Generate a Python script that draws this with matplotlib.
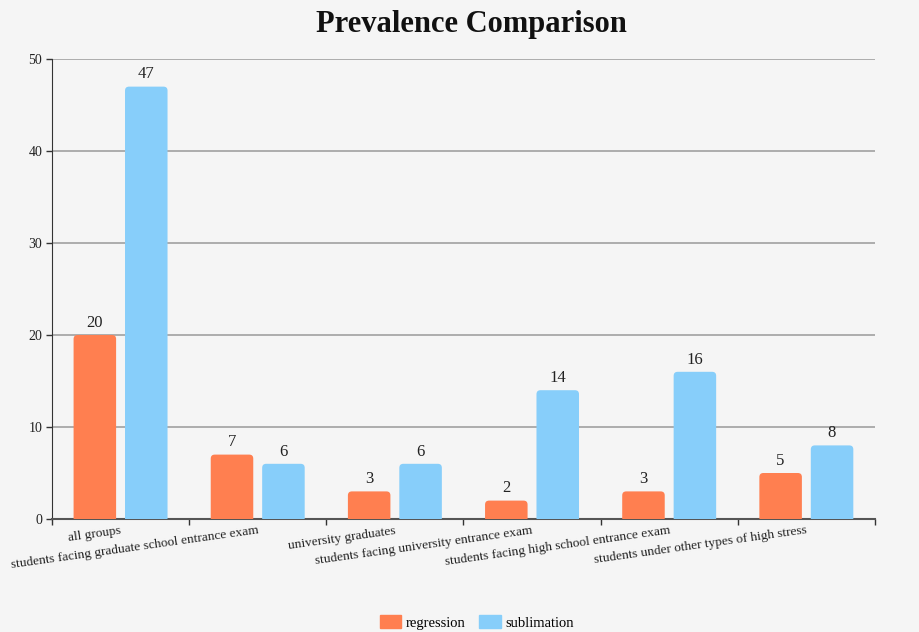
import numpy as np
import matplotlib
matplotlib.use("Agg")
import matplotlib.pyplot as plt
from matplotlib.patches import Patch, FancyBboxPatch

categories = ["all groups",
              "students facing graduate school entrance exam",
              "university graduates",
              "students facing university entrance exam",
              "students facing high school entrance exam",
              "students under other types of high stress"]
regression = [20, 7, 3, 2, 3, 5]
sublimation = [47, 6, 6, 14, 16, 8]
y_ticks = [0, 10, 20, 30, 40, 50]

orange = "#FF7F50"
blue = "#87CEFA"
bg = "#f5f5f5"

plt.rcParams["font.family"] = ["Liberation Serif", "DejaVu Serif"]

fig = plt.figure(figsize=(9.2, 6.32), dpi=100, facecolor=bg)
ax = fig.add_axes([0.0565, 0.1788, 0.8945, 0.7278], facecolor=bg)

x = np.arange(len(categories))
w = 0.31
gap = 0.065
off = (w + gap) / 2

ax.set_xlim(-0.5, len(categories) - 0.5)
ax.set_ylim(0, 50)

b1 = ax.bar(x - off, regression, w, color=orange, zorder=3)
b2 = ax.bar(x + off, sublimation, w, color=blue, zorder=3)

# swap the plain rectangles for ones with rounded top corners
bbox = ax.get_window_extent()
px_x = bbox.width / (ax.get_xlim()[1] - ax.get_xlim()[0])
px_y = bbox.height / (ax.get_ylim()[1] - ax.get_ylim()[0])
radius_px = 4
r = radius_px / px_x
aspect = px_x / px_y
for bars in (b1, b2):
    for b in bars:
        b.set_visible(False)
        h = b.get_height()
        drop = radius_px / px_y
        p = FancyBboxPatch((b.get_x(), -drop), b.get_width(), h + drop,
                           boxstyle=f"round,pad=0,rounding_size={r}",
                           mutation_aspect=aspect, facecolor=b.get_facecolor(),
                           edgecolor="none", zorder=3, clip_on=True)
        ax.add_patch(p)

for bars, vals in ((b1, regression), (b2, sublimation)):
    for b, v in zip(bars, vals):
        ax.annotate(str(v), (b.get_x() + b.get_width() / 2, v),
                    xytext=(0, 3), textcoords="offset points",
                    ha="center", va="bottom", fontsize=12, color="#222")

ax.set_yticks(y_ticks)
ax.tick_params(axis="y", length=4, width=1, color="#333", labelsize=10,
               labelcolor="#222", pad=3)
ax.yaxis.grid(True, color="#a0a0a0", linewidth=1.2, zorder=0)
ax.set_axisbelow(True)

# ticks on category boundaries, labels under centers
ax.set_xticks(np.arange(len(categories) + 1) - 0.5)
ax.set_xticklabels([])
ax.tick_params(axis="x", length=4, width=1, color="#333")
for i, c in enumerate(categories):
    ax.annotate(c, (i, 0), xycoords=("data", "axes fraction"),
                xytext=(0, -4), textcoords="offset points",
                ha="right", va="top", rotation=8, rotation_mode="anchor",
                fontsize=9.6, color="#222")

for s in ("top", "right"):
    ax.spines[s].set_visible(False)
ax.spines["left"].set_color("#333")
ax.spines["bottom"].set_color("#555")
ax.spines["bottom"].set_linewidth(1.5)

fig.text(0.512, 0.962, "Prevalence Comparison", ha="center", va="center",
         fontsize=22, fontweight="bold", color="#111")

handles = [Patch(facecolor=orange, edgecolor=orange, label="regression"),
           Patch(facecolor=blue, edgecolor=blue, label="sublimation")]
fig.legend(handles=handles, loc="lower center", ncol=2, frameon=False,
           bbox_to_anchor=(0.518, -0.017), fontsize=10.5, handlelength=1.5,
           handleheight=1.0, handletextpad=0.3, columnspacing=0.9)

fig.savefig("out.png", dpi=100, facecolor=bg)
